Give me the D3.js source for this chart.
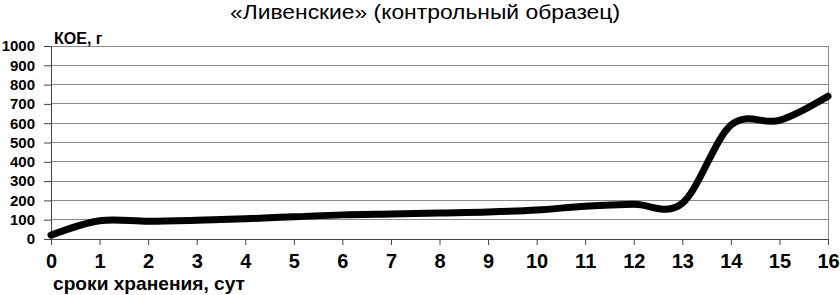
<!DOCTYPE html>
<html>
<head>
<meta charset="utf-8">
<script src="https://cdn.jsdelivr.net/npm/d3@7"></script>
<style>
  body { margin: 0; background: #fff; }
  text { font-family: Arial, "Liberation Sans", sans-serif; }
</style>
</head>
<body>
<div id="chart"></div>
<script>
// storage days and CFU values
const days = [0, 1, 2, 3, 4, 5, 6, 7, 8, 9, 10, 11, 12, 13, 14, 15, 16];
const koe = [20, 95, 92, 97, 105, 115, 125, 130, 135, 140, 150, 170, 180, 185, 590, 615, 740];
const yTicks = [0, 100, 200, 300, 400, 500, 600, 700, 800, 900, 1000];

const titleText = '«Ливенские» (контрольный образец)';
const yLabel = 'КОЕ, г';
const xLabel = 'сроки хранения, сут';

const width = 840, height = 295;
const margin = { top: 46, right: 12, bottom: 56, left: 51 };

const svg = d3.select('#chart').append('svg')
  .attr('width', width)
  .attr('height', height);

svg.append('rect').attr('width', width).attr('height', height).attr('fill', '#fff');

const x = d3.scaleLinear().domain([0, 16]).range([margin.left, width - margin.right]);
const y = d3.scaleLinear().domain([0, 1000]).range([height - margin.bottom, margin.top]);

// grid lines
svg.append('g')
  .selectAll('line')
  .data(yTicks.filter(d => d > 0))
  .enter().append('line')
  .attr('x1', x(0)).attr('x2', x(16))
  .attr('y1', d => y(d)).attr('y2', d => y(d))
  .attr('stroke', '#8a8a8a')
  .attr('stroke-width', 1)
  .attr('shape-rendering', 'crispEdges');

// right border
svg.append('line')
  .attr('x1', x(16)).attr('x2', x(16))
  .attr('y1', y(1000)).attr('y2', y(0))
  .attr('stroke', '#8a8a8a')
  .attr('shape-rendering', 'crispEdges');

// y axis
const yAxis = svg.append('g')
  .attr('transform', 'translate(' + x(0) + ',0)')
  .call(d3.axisLeft(y).tickValues(yTicks).tickSize(7).tickPadding(9).tickSizeOuter(0).tickFormat(d3.format('d')));
yAxis.select('.domain').attr('stroke', '#444');
yAxis.selectAll('.tick line').attr('stroke', '#444');
yAxis.selectAll('text')
  .attr('font-size', 15)
  .attr('font-weight', 'bold')
  .attr('fill', '#000');

// x axis
const xAxis = svg.append('g')
  .attr('transform', 'translate(0,' + y(0) + ')')
  .call(d3.axisBottom(x).tickValues(days).tickSize(6).tickPadding(9).tickSizeOuter(0).tickFormat(d3.format('d')));
xAxis.select('.domain').attr('stroke', '#444');
xAxis.selectAll('.tick line').attr('stroke', '#444');
xAxis.selectAll('text')
  .attr('font-size', 20)
  .attr('font-weight', 'bold')
  .attr('fill', '#000');

// data line, smoothed like the spreadsheet original
const line = d3.line()
  .x((d, i) => x(days[i]))
  .y(d => y(d))
  .curve(d3.curveCardinal.tension(0));

svg.append('path')
  .datum(koe)
  .attr('d', line)
  .attr('fill', 'none')
  .attr('stroke', '#000')
  .attr('stroke-width', 7)
  .attr('stroke-linejoin', 'round')
  .attr('stroke-linecap', 'round');

// texts
svg.append('text')
  .attr('x', 230).attr('y', 19)
  .attr('font-size', 20)
  .attr('textLength', 390)
  .attr('lengthAdjust', 'spacingAndGlyphs')
  .text(titleText);

svg.append('text')
  .attr('x', 54).attr('y', 44)
  .attr('font-size', 16)
  .attr('font-weight', 'bold')
  .text(yLabel);

svg.append('text')
  .attr('x', 53).attr('y', 290)
  .attr('font-size', 19)
  .attr('font-weight', 'bold')
  .attr('textLength', 192)
  .attr('lengthAdjust', 'spacingAndGlyphs')
  .text(xLabel);
</script>
</body>
</html>
